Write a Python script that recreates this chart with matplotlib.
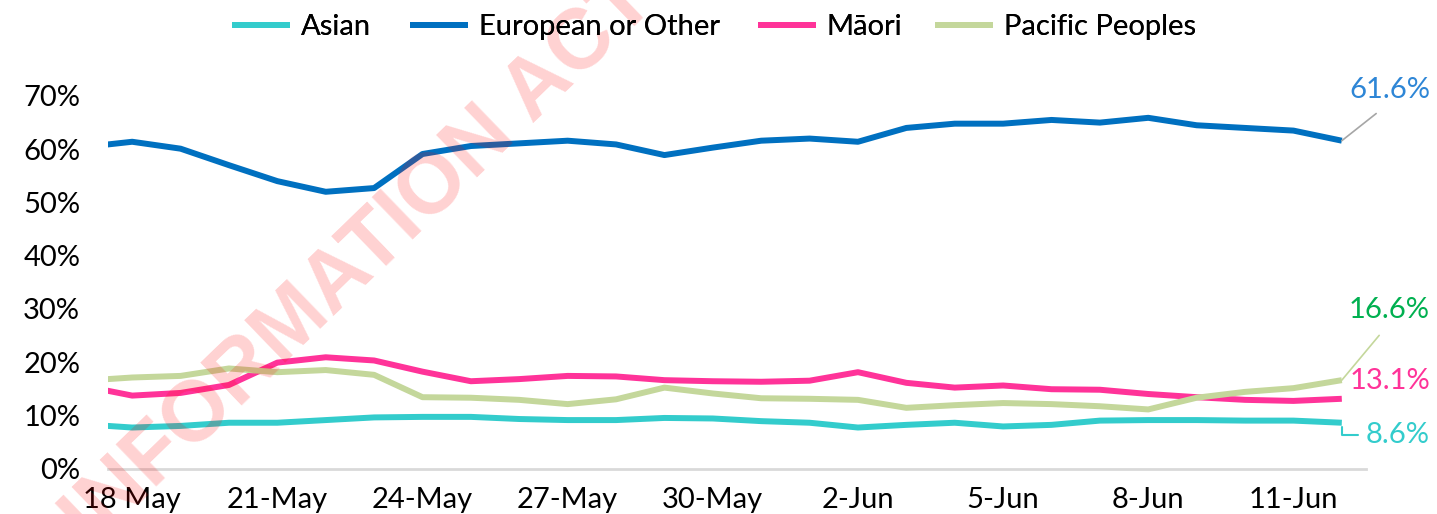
import numpy as np
import matplotlib
matplotlib.use('Agg')
from matplotlib import pyplot as plt

# days; first entry (17 May) sits just outside the left edge and is clipped
dates = ['17 May', '18 May', '19-May', '20-May', '21-May', '22-May', '23-May', '24-May',
         '25-May', '26-May', '27-May', '28-May', '29-May', '30-May', '31-May',
         '1-Jun', '2-Jun', '3-Jun', '4-Jun', '5-Jun', '6-Jun', '7-Jun', '8-Jun',
         '9-Jun', '10-Jun', '11-Jun', '12-Jun']

asian = [8.3, 7.7, 8.0, 8.6, 8.6, 9.1, 9.6, 9.7, 9.7, 9.3, 9.1, 9.1, 9.5, 9.4,
         8.9, 8.6, 7.7, 8.2, 8.6, 7.9, 8.2, 9.0, 9.1, 9.1, 9.0, 9.0, 8.6]
european = [60.4, 61.4, 60.1, 57.0, 54.0, 52.0, 52.7, 59.1, 60.6, 61.1, 61.6, 60.9,
            58.9, 60.3, 61.6, 62.0, 61.4, 64.0, 64.8, 64.8, 65.5, 65.0, 65.9, 64.5,
            64.0, 63.5, 61.6]
maori = [15.5, 13.7, 14.2, 15.7, 19.9, 20.9, 20.3, 18.2, 16.4, 16.8, 17.4, 17.3,
         16.6, 16.4, 16.3, 16.5, 18.1, 16.1, 15.2, 15.6, 14.9, 14.8, 14.0, 13.4,
         12.9, 12.7, 13.1]
pacific = [16.5, 17.1, 17.4, 18.8, 18.1, 18.5, 17.6, 13.4, 13.3, 12.9, 12.1, 13.0,
           15.2, 14.1, 13.2, 13.1, 12.9, 11.4, 11.9, 12.3, 12.1, 11.7, 11.1, 13.3,
           14.4, 15.1, 16.6]

names = ['Asian', 'European or Other', 'M\u0101ori', 'Pacific Peoples']
colors = ['#33CCCC', '#0070C0', '#FF3399', '#C4D79B']
label_colors = ['#33CCCC', '#2E86D6', '#FF3399', '#00B050']

plt.rcParams['font.family'] = ['Lato', 'DejaVu Sans']
FS = 21
W, H = 1437, 514

fig = plt.figure(figsize=(W / 100, H / 100), dpi=100)
ax = fig.add_axes([108/W, 1 - 468.5/H, (1366-108)/W, (468.5-96)/H])

x = np.arange(len(dates)) - 1
series = [asian, european, maori, pacific]
lines = []
for vals, name, c in zip(series, names, colors):
    ln, = ax.plot(x, np.array(vals) / 100, color=c, lw=4.3, label=name,
                  solid_joinstyle='round', solid_capstyle='butt', zorder=3)
    lines.append(ln)

ax.set_xlim(-0.5, 25.5)
ax.set_ylim(0, 0.7)
ax.set_yticks(np.arange(0, 0.71, 0.1))
ax.set_yticklabels([f'{int(round(v*100))}%' for v in np.arange(0, 0.71, 0.1)])
tick_idx = list(range(0, 26, 3))
ax.set_xticks(tick_idx)
ax.set_xticklabels([dates[i + 1] for i in tick_idx])
ax.tick_params(axis='both', length=0, labelsize=FS, colors='black')
ax.tick_params(axis='y', pad=20)
ax.tick_params(axis='x', pad=13)
for s in ['top', 'right', 'left']:
    ax.spines[s].set_visible(False)
ax.spines['bottom'].set_color('#D9D9D9')
ax.spines['bottom'].set_linewidth(2)

# end labels with leader lines (figure pixels from bottom-left)
last = len(dates) - 2
ax.annotate('61.6%', xy=(last, european[-1] / 100), xytext=(1430, 424),
            textcoords='figure pixels', color=label_colors[1], fontsize=FS,
            va='center', ha='right', annotation_clip=False,
            arrowprops=dict(arrowstyle='-', color='#A6A6A6', lw=1.2,
                            shrinkA=9, shrinkB=0, relpos=(0.5, 0)))
ax.annotate('16.6%', xy=(last, pacific[-1] / 100), xytext=(1430, 204),
            textcoords='figure pixels', color=label_colors[3], fontsize=FS,
            va='center', ha='right', annotation_clip=False,
            arrowprops=dict(arrowstyle='-', color='#C4D79B', lw=1.2,
                            shrinkA=9, shrinkB=0, relpos=(0.5, 0)))
ax.annotate('13.1%', xy=(last, maori[-1] / 100), xytext=(1430, 133),
            textcoords='figure pixels', color=label_colors[2], fontsize=FS,
            va='center', ha='right', annotation_clip=False)
ax.annotate('8.6%', xy=(last, asian[-1] / 100), xytext=(1430, 79),
            textcoords='figure pixels', color=label_colors[0], fontsize=FS,
            va='center', ha='right', annotation_clip=False,
            arrowprops=dict(arrowstyle='-', color='#33CCCC', lw=1.5,
                            shrinkA=4, shrinkB=3,
                            connectionstyle='angle,angleA=0,angleB=90,rad=0',
                            relpos=(0, 0.5)))

# legend: one entry per legend so each sits where the reference has it
leg_x = [232, 410, 758, 935]
for ln, lx in zip(lines, leg_x):
    lg = fig.legend(handles=[ln], loc='center left', bbox_to_anchor=(lx / W, 1 - 27 / H),
                    frameon=False, fontsize=FS, handlelength=2.0, handletextpad=0.35,
                    borderpad=0, borderaxespad=0)
    fig.add_artist(lg)

# watermark
fig.text(360, 254, 'INFORMATION ACT', transform=None, rotation=44, color='red',
         alpha=0.18, fontsize=61, fontweight='bold', ha='center', va='center',
         family=['Liberation Sans', 'DejaVu Sans'], rotation_mode='anchor')

fig.savefig('out.png', dpi=100)
